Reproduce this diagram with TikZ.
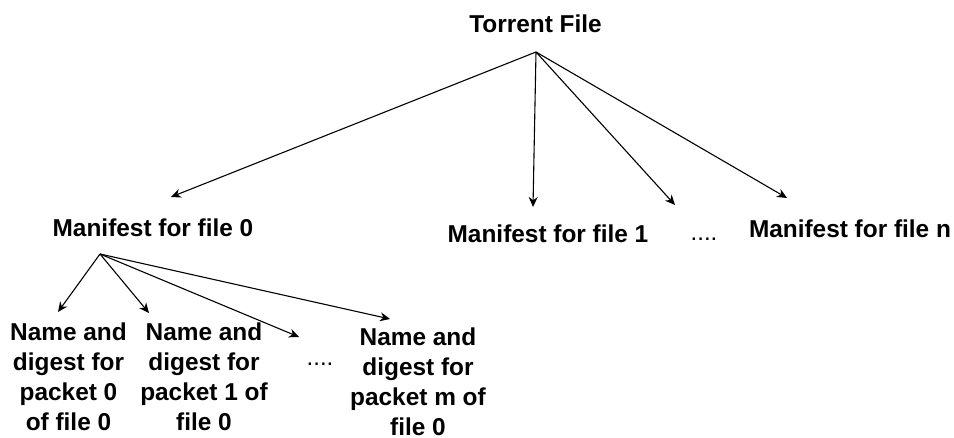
\documentclass[tikz,border=0pt]{standalone}
\usepackage{fontspec}
\setmainfont{Liberation Sans}
\usetikzlibrary{arrows.meta}
\begin{document}
\begin{tikzpicture}[x=0.5pt,y=-0.5pt,
  lbl/.style={font=\bfseries\fontsize{12.2}{15}\selectfont, inner sep=0pt, anchor=base},
  blk/.style={font=\bfseries\fontsize{12.2}{15}\selectfont, inner sep=0pt, align=center, anchor=center},
  dotlbl/.style={font=\fontsize{12}{15}\selectfont, inner sep=0pt, anchor=base},
  conn/.style={line width=0.55pt, -{Stealth[length=5pt,width=4.5pt]}}]
\useasboundingbox (0,0) rectangle (954,438);
% nodes
\node[lbl] (tf) at (535.5,33) {Torrent File};
\node[lbl] (m0) at (153,237) {Manifest for file 0};
\node[lbl] (m1) at (548,243) {Manifest for file 1};
\node[dotlbl] (d1) at (704,241) {....};
\node[lbl] (mn) at (850,238) {Manifest for file n};
\node[blk] (p0) at (68.5,377) {Name and\\digest for\\packet 0\\of file 0};
\node[blk] (p1) at (204,377) {Name and\\digest for\\packet 1 of\\file 0};
\node[dotlbl] (d2) at (320,365) {....};
\node[blk] (pm) at (418,382) {Name and\\digest for\\packet m of\\file 0};
% connector points
\coordinate (tfa) at (536,52);
\coordinate (e0) at (171,197);
\coordinate (e1) at (533,207);
\coordinate (e2) at (675,205);
\coordinate (en) at (787,198);
\coordinate (m0a) at (100,254);
\coordinate (f0) at (58,312);
\coordinate (f1) at (149,313);
\coordinate (f2) at (299,337);
\coordinate (fm) at (390,319);
% connectors
\draw[conn] (tfa) -- (e0);
\draw[conn] (tfa) -- (e1);
\draw[conn] (tfa) -- (e2);
\draw[conn] (tfa) -- (en);
\draw[conn] (m0a) -- (f0);
\draw[conn] (m0a) -- (f1);
\draw[conn] (m0a) -- (f2);
\draw[conn] (m0a) -- (fm);
\end{tikzpicture}
\end{document}
